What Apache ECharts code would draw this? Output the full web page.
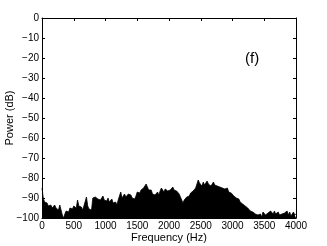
<!DOCTYPE html>
<html>
<head>
<meta charset="utf-8">
<script src="https://cdn.jsdelivr.net/npm/echarts@6/dist/echarts.min.js"></script>
<style>html,body{margin:0;padding:0;background:#fff}#c{width:327px;height:246px}</style>
</head>
<body>
<div id="c"></div>
<script>
// Frequency step 20 Hz, from 0 to 4000 Hz
var freqStart = 0, freqStep = 20;
var power = [
 -85, -90, -92, -93, -92.5, -94, -93, -93.5, -95, -94,
 -93.5, -95, -94.5, -96, -93.5, -96, -98.5, -100, -98, -96.5,
 -95.5, -97, -95, -94, -95.5, -94, -93, -95, -91, -94,
 -95, -94.5, -96, -94, -95, -89.5, -94, -95.5, -94.5, -96,
 -90, -89, -89.5, -88.5, -90.5, -89.5, -91, -90, -89, -91,
 -90.5, -91.5, -90, -92, -91, -90.5, -92.5, -93, -92, -93.5,
 -91, -92, -87, -90, -89, -88, -89.5, -90, -88, -89,
 -88.5, -90, -89.5, -90.5, -89, -87, -86.5, -87.5, -86, -87,
 -85, -86, -83, -84.5, -86, -87, -86, -88, -87.5, -88.5,
 -88, -87, -88.5, -86.5, -85, -86, -87, -85.5, -86, -86.5,
 -85.5, -86, -85, -84.5, -86, -85, -86.5, -87, -88, -89.5,
 -91, -92.5, -91, -90, -89.5, -88.5, -89, -87.5, -88, -86.5,
 -85.5, -85, -84.5, -81, -82.5, -83, -84, -82, -83.5, -82.5,
 -81.5, -83, -82, -84, -83, -82, -83.5, -82.5, -84, -83,
 -84.5, -83.5, -85, -84.5, -85.5, -86, -85, -87, -86.5, -87.5,
 -88, -89, -88.5, -90, -91, -90.5, -92, -91.5, -93, -93.5,
 -94, -93.5, -95, -95.5, -96.5, -96, -97, -96.5, -98, -97.5,
 -98.5, -99, -98, -99.5, -97, -96, -98.5, -99, -97.5, -98,
 -96.5, -97, -98, -96.5, -98, -99, -97, -98.5, -97.5, -98,
 -99, -97.5, -98, -96.5, -98.5, -97, -99, -98, -97, -98.5,
 -98
];
var xTicks = {min: 0, max: 4000, interval: 500};
var yTicks = {min: -100, max: 0, interval: 10};
var xLabel = 'Frequency (Hz)';
var yLabel = 'Power (dB)';
var panelLabel = '(f)';

var data = power.map(function (v, i) { return [freqStart + i * freqStep, v]; });
var font = 'Liberation Sans, Arial, Helvetica, sans-serif';
var lineStyle = {color: '#000', width: 1};
var chart = echarts.init(document.getElementById('c'), null, {renderer: 'canvas'});
chart.setOption({
  animation: false,
  backgroundColor: '#fff',
  grid: {left: 42, right: 31, top: 18, bottom: 28, containLabel: false, outerBoundsMode: 'none'},
  xAxis: [{
    type: 'value', min: xTicks.min, max: xTicks.max, interval: xTicks.interval,
    position: 'bottom',
    name: xLabel, nameLocation: 'middle', nameGap: 14, nameMoveOverlap: false,
    nameTextStyle: {fontFamily: font, fontSize: 11, color: '#000'},
    axisLine: {show: true, onZero: false, lineStyle: lineStyle},
    axisTick: {show: true, inside: true, length: 3, lineStyle: lineStyle},
    axisLabel: {fontFamily: font, fontSize: 10, color: '#000', margin: 3,
      formatter: function (v) { return String(v); }},
    splitLine: {show: false}
  }, {
    type: 'value', min: xTicks.min, max: xTicks.max, interval: xTicks.interval,
    position: 'top',
    axisLine: {show: true, onZero: false, lineStyle: lineStyle},
    axisTick: {show: true, inside: true, length: 3, lineStyle: lineStyle},
    axisLabel: {show: false}, splitLine: {show: false}
  }],
  yAxis: [{
    type: 'value', min: yTicks.min, max: yTicks.max, interval: yTicks.interval,
    position: 'left',
    name: yLabel, nameLocation: 'middle', nameGap: 27, nameMoveOverlap: false,
    nameTextStyle: {fontFamily: font, fontSize: 11, color: '#000'},
    axisLine: {show: true, onZero: false, lineStyle: lineStyle},
    axisTick: {show: true, inside: true, length: 3, lineStyle: lineStyle},
    axisLabel: {fontFamily: font, fontSize: 10, color: '#000', margin: 3,
      formatter: function (v) { return v < 0 ? '\u2212' + Math.abs(v) : String(v); }},
    splitLine: {show: false}
  }, {
    type: 'value', min: yTicks.min, max: yTicks.max, interval: yTicks.interval,
    position: 'right',
    axisLine: {show: true, onZero: false, lineStyle: lineStyle},
    axisTick: {show: true, inside: true, length: 3, lineStyle: lineStyle},
    axisLabel: {show: false}, splitLine: {show: false}
  }],
  series: [{
    type: 'line', xAxisIndex: 0, yAxisIndex: 0,
    data: data, showSymbol: false, symbol: 'none',
    lineStyle: {color: '#000', width: 0.8},
    areaStyle: {color: '#000', opacity: 1, origin: 'start'},
    z: 1
  }],
  graphic: [{
    type: 'text', left: 245, top: 51,
    style: {text: panelLabel, fontFamily: font, fontSize: 15, fill: '#000'}
  }]
});
</script>
</body>
</html>
